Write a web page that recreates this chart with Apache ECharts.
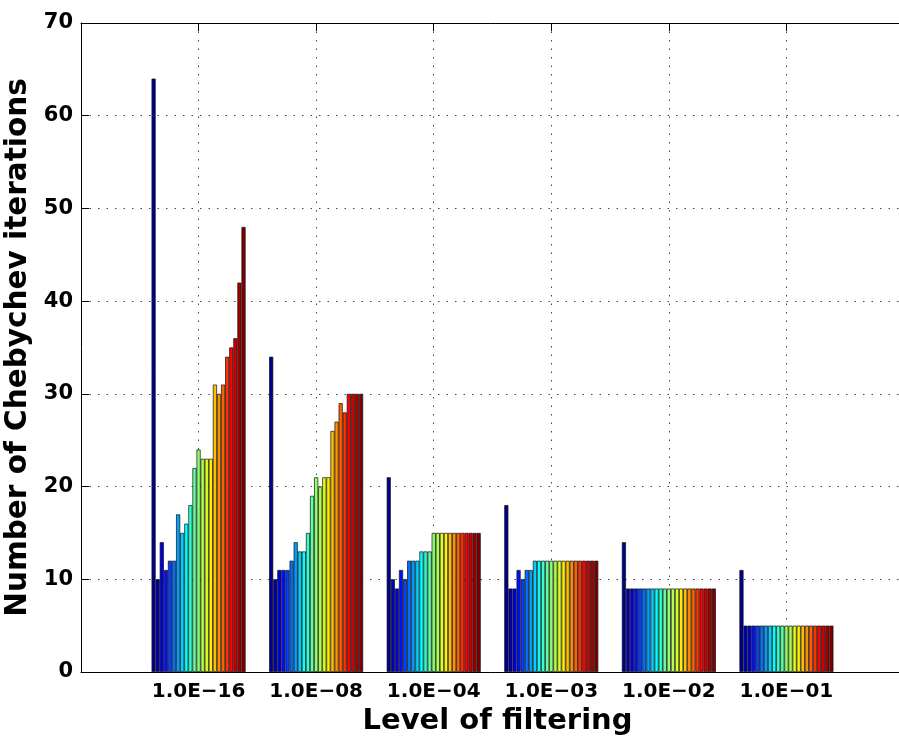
<!DOCTYPE html>
<html>
<head>
<meta charset="utf-8">
<title>Chebychev iterations</title>
<script src="https://cdn.jsdelivr.net/npm/echarts@6/dist/echarts.min.js"></script>
<style>
  html, body { margin: 0; padding: 0; background: #fff; }
  #chart { width: 899px; height: 743px; }
</style>
</head>
<body>
<div id="chart"></div>
<script>
// x tick labels (one per group of bars)
const categories = ['1.0E−16', '1.0E−08', '1.0E−04', '1.0E−03', '1.0E−02', '1.0E−01']

// y axis range
const yMin = 0
const yMax = 70
const yStep = 10

// iterations per filtering level, 23 bars each, left to right
const lvl16 = [64, 10, 14, 11, 12, 12, 17, 15, 16, 18, 22, 24, 23, 23, 23, 31, 30, 31, 34, 35, 36, 42, 48]
const lvl08 = [34, 10, 11, 11, 11, 12, 14, 13, 13, 15, 19, 21, 20, 21, 21, 26, 27, 29, 28, 30, 30, 30, 30]
const lvl04 = [21, 10, 9, 11, 10, 12, 12, 12, 13, 13, 13, 15, 15, 15, 15, 15, 15, 15, 15, 15, 15, 15, 15]
const lvl03 = [18, 9, 9, 11, 10, 11, 11, 12, 12, 12, 12, 12, 12, 12, 12, 12, 12, 12, 12, 12, 12, 12, 12]
const lvl02 = [14, 9, 9, 9, 9, 9, 9, 9, 9, 9, 9, 9, 9, 9, 9, 9, 9, 9, 9, 9, 9, 9, 9]
const lvl01 = [11, 5, 5, 5, 5, 5, 5, 5, 5, 5, 5, 5, 5, 5, 5, 5, 5, 5, 5, 5, 5, 5, 5]

const groups = [lvl16, lvl08, lvl04, lvl03, lvl02, lvl01]
const nBars = lvl16.length

const FONT = 'DejaVu Sans'

// matlab jet(64) colormap
function jet64(k) {
    const u = []
    for (let i = 1; i <= 16; i++) u.push(i / 16)
    for (let i = 0; i < 15; i++) u.push(1)
    for (let i = 16; i >= 1; i--) u.push(i / 16)
    const pick = (row) => (row >= 1 && row <= u.length ? u[row - 1] : 0)
    const r = pick(k - 24)
    const g = pick(k - 8)
    const b = pick(k + 8)
    const h = (v) => Math.round(v * 255).toString(16).padStart(2, '0')
    return '#' + h(r) + h(g) + h(b)
}

function barColor(i) {
    // scaled cdata mapping of series index onto the colormap
    const idx = Math.min(64, Math.floor(i / (nBars - 1) * 64) + 1)
    return jet64(idx)
}

const series = []
for (let j = 0; j < nBars; j++) {
    series.push({
        type: 'bar',
        name: 'b' + (j + 1),
        data: groups.map((g, k) => [k + 1, g[j]]),
        barWidth: 94 / nBars,
        barGap: '0%',
        itemStyle: {
            color: barColor(j),
            borderColor: '#111',
            borderWidth: 0.7
        },
        emphasis: { disabled: true }
    })
}

const chart = echarts.init(document.getElementById('chart'))

const option = {
    animation: false,
    backgroundColor: '#fff',
    grid: {
        left: 81,
        top: 23,
        width: 823,
        height: 649,
        containLabel: false,
        outerBoundsMode: 'none'
    },
    xAxis: [
        {
            type: 'value',
            min: 0,
            max: 7,
            interval: 1,
            position: 'bottom',
            name: 'Level of filtering',
            nameLocation: 'middle',
            nameGap: 35,
            nameTextStyle: { fontFamily: FONT, fontWeight: 'bold', fontSize: 29, color: '#000', padding: [0, 0, 0, 10] },
            axisLine: { show: true, lineStyle: { color: '#000', width: 1 } },
            axisTick: { show: true, inside: true, length: 8, lineStyle: { color: '#000' } },
            axisLabel: {
                margin: 10,
                fontFamily: FONT,
                fontWeight: 'bold',
                fontSize: 20,
                color: '#000',
                formatter: (v) => categories[v - 1] || ''
            },
            splitLine: { show: true, lineStyle: { color: '#444', type: [1.5, 7] } }
        },
        {
            type: 'value',
            min: 0,
            max: 7,
            interval: 1,
            position: 'top',
            axisLine: { show: true, lineStyle: { color: '#000', width: 1 } },
            axisTick: { show: true, inside: true, length: 8, lineStyle: { color: '#000' } },
            axisLabel: { show: false },
            splitLine: { show: false }
        }
    ],
    yAxis: {
        type: 'value',
        min: yMin,
        max: yMax,
        interval: yStep,
        name: 'Number of Chebychev iterations',
        nameLocation: 'middle',
        nameGap: 31,
        nameTextStyle: { fontFamily: FONT, fontWeight: 'bold', fontSize: 29.5, color: '#000' },
        axisLine: { show: true, lineStyle: { color: '#000', width: 1 } },
        axisTick: { show: true, inside: true, length: 8, lineStyle: { color: '#000' } },
        axisLabel: { margin: 8, fontFamily: FONT, fontWeight: 'bold', fontSize: 21, color: '#000' },
        splitLine: { show: true, lineStyle: { color: '#444', type: [1.5, 7] } }
    },
    series: series
}

chart.setOption(option)
</script>
</body>
</html>
